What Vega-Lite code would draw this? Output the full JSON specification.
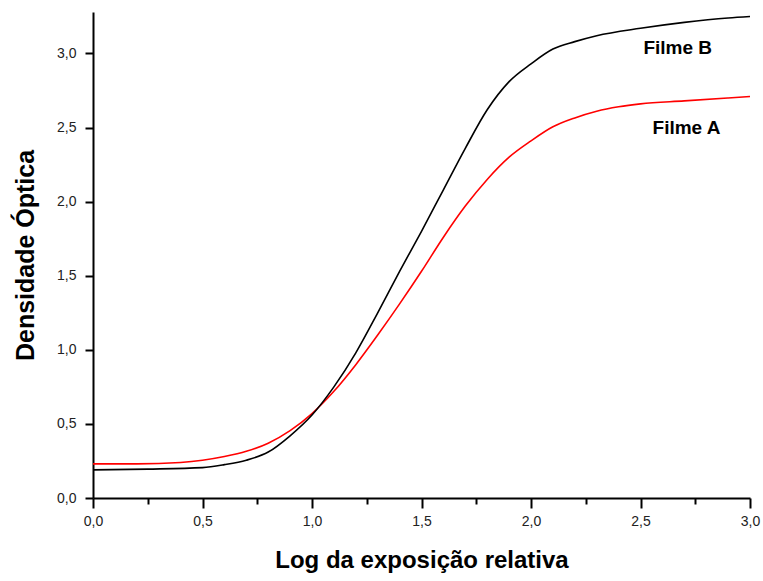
{
  "$schema": "https://vega.github.io/schema/vega-lite/v6.json",
  "autosize": {"type": "none"},
  "width": 657,
  "height": 486,
  "padding": {"left": 93, "top": 12, "right": 13, "bottom": 83},
  "background": "#ffffff",
  "config": {
    "view": {"stroke": null},
    "font": "Liberation Sans"
  },
  "datasets": {
    "curves": [
      {"log": 0.0, "d": 0.23, "film": "Filme A"},
      {"log": 0.2, "d": 0.23, "film": "Filme A"},
      {"log": 0.4, "d": 0.24, "film": "Filme A"},
      {"log": 0.5, "d": 0.255, "film": "Filme A"},
      {"log": 0.6, "d": 0.28, "film": "Filme A"},
      {"log": 0.7, "d": 0.315, "film": "Filme A"},
      {"log": 0.8, "d": 0.37, "film": "Filme A"},
      {"log": 0.9, "d": 0.455, "film": "Filme A"},
      {"log": 1.0, "d": 0.57, "film": "Filme A"},
      {"log": 1.1, "d": 0.72, "film": "Filme A"},
      {"log": 1.2, "d": 0.9, "film": "Filme A"},
      {"log": 1.3, "d": 1.1, "film": "Filme A"},
      {"log": 1.4, "d": 1.31, "film": "Filme A"},
      {"log": 1.5, "d": 1.53, "film": "Filme A"},
      {"log": 1.6, "d": 1.76, "film": "Filme A"},
      {"log": 1.7, "d": 1.97, "film": "Filme A"},
      {"log": 1.8, "d": 2.15, "film": "Filme A"},
      {"log": 1.9, "d": 2.3, "film": "Filme A"},
      {"log": 2.0, "d": 2.41, "film": "Filme A"},
      {"log": 2.1, "d": 2.505, "film": "Filme A"},
      {"log": 2.2, "d": 2.565, "film": "Filme A"},
      {"log": 2.3, "d": 2.61, "film": "Filme A"},
      {"log": 2.4, "d": 2.64, "film": "Filme A"},
      {"log": 2.5, "d": 2.66, "film": "Filme A"},
      {"log": 2.7, "d": 2.68, "film": "Filme A"},
      {"log": 2.9, "d": 2.70, "film": "Filme A"},
      {"log": 3.0, "d": 2.71, "film": "Filme A"},
      {"log": 0.0, "d": 0.19, "film": "Filme B"},
      {"log": 0.25, "d": 0.195, "film": "Filme B"},
      {"log": 0.5, "d": 0.205, "film": "Filme B"},
      {"log": 0.6, "d": 0.225, "film": "Filme B"},
      {"log": 0.7, "d": 0.255, "film": "Filme B"},
      {"log": 0.8, "d": 0.31, "film": "Filme B"},
      {"log": 0.9, "d": 0.42, "film": "Filme B"},
      {"log": 1.0, "d": 0.56, "film": "Filme B"},
      {"log": 1.1, "d": 0.75, "film": "Filme B"},
      {"log": 1.2, "d": 0.98, "film": "Filme B"},
      {"log": 1.3, "d": 1.25, "film": "Filme B"},
      {"log": 1.4, "d": 1.53, "film": "Filme B"},
      {"log": 1.5, "d": 1.8, "film": "Filme B"},
      {"log": 1.6, "d": 2.08, "film": "Filme B"},
      {"log": 1.7, "d": 2.36, "film": "Filme B"},
      {"log": 1.8, "d": 2.62, "film": "Filme B"},
      {"log": 1.9, "d": 2.81, "film": "Filme B"},
      {"log": 2.0, "d": 2.93, "film": "Filme B"},
      {"log": 2.1, "d": 3.03, "film": "Filme B"},
      {"log": 2.2, "d": 3.08, "film": "Filme B"},
      {"log": 2.3, "d": 3.12, "film": "Filme B"},
      {"log": 2.5, "d": 3.17, "film": "Filme B"},
      {"log": 2.7, "d": 3.21, "film": "Filme B"},
      {"log": 2.9, "d": 3.24, "film": "Filme B"},
      {"log": 3.0, "d": 3.25, "film": "Filme B"}
    ],
    "labels": [
      {"log": 2.67, "d": 3.04, "text": "Filme B"},
      {"log": 2.71, "d": 2.50, "text": "Filme A"}
    ]
  },
  "layer": [
    {
      "data": {"name": "curves"},
      "mark": {"type": "line", "strokeWidth": 1.6, "interpolate": "monotone"},
      "encoding": {
        "x": {
          "field": "log",
          "type": "quantitative",
          "scale": {"domain": [0, 3], "nice": false, "zero": false},
          "axis": {
            "title": "Log da exposição relativa",
            "titleFont": "Liberation Sans",
            "titleFontSize": 24,
            "titleFontWeight": "bold",
            "titleColor": "#000000",
            "titlePadding": 20,
            "values": [0, 0.25, 0.5, 0.75, 1, 1.25, 1.5, 1.75, 2, 2.25, 2.5, 2.75, 3],
            "labelExpr": "abs(datum.value*2 - round(datum.value*2)) < 0.001 ? replace(format(datum.value, '.1f'), '.', ',') : ''",
            "labelFont": "Liberation Sans",
            "labelFontSize": 14,
            "labelColor": "#222222",
            "labelPadding": 6,
            "labelFlush": false,
            "domainColor": "#000000",
            "domainWidth": 2,
            "ticks": true,
            "tickColor": "#000000",
            "tickWidth": 2,
            "tickSize": {"condition": {"test": {"field": "value", "oneOf": [0, 0.5, 1, 1.5, 2, 2.5, 3]}, "value": 10}, "value": 6},
            "grid": false
          }
        },
        "y": {
          "field": "d",
          "type": "quantitative",
          "scale": {"domain": [0, 3.28], "nice": false, "zero": false},
          "axis": {
            "title": "Densidade Óptica",
            "titleFont": "Liberation Sans",
            "titleFontSize": 25,
            "titleFontWeight": "bold",
            "titleColor": "#000000",
            "titlePadding": 18,
            "values": [0, 0.25, 0.5, 0.75, 1, 1.25, 1.5, 1.75, 2, 2.25, 2.5, 2.75, 3, 3.25],
            "labelExpr": "abs(datum.value*2 - round(datum.value*2)) < 0.001 ? replace(format(datum.value, '.1f'), '.', ',') : ''",
            "labelFont": "Liberation Sans",
            "labelFontSize": 14,
            "labelColor": "#222222",
            "labelPadding": 9,
            "labelFlush": false,
            "domainColor": "#000000",
            "domainWidth": 2,
            "ticks": true,
            "tickColor": "#000000",
            "tickWidth": 2,
            "tickSize": {"condition": {"test": {"field": "value", "oneOf": [0, 0.5, 1, 1.5, 2, 2.5, 3]}, "value": 8}, "value": 5},
            "grid": false
          }
        },
        "color": {
          "field": "film",
          "type": "nominal",
          "scale": {"domain": ["Filme A", "Filme B"], "range": ["#ff0000", "#000000"]},
          "legend": null
        }
      }
    },
    {
      "data": {"name": "labels"},
      "mark": {"type": "text", "font": "Liberation Sans", "fontSize": 19, "fontWeight": "bold", "color": "#000000", "align": "center", "baseline": "middle"},
      "encoding": {
        "x": {"field": "log", "type": "quantitative"},
        "y": {"field": "d", "type": "quantitative"},
        "text": {"field": "text"}
      }
    }
  ]
}
